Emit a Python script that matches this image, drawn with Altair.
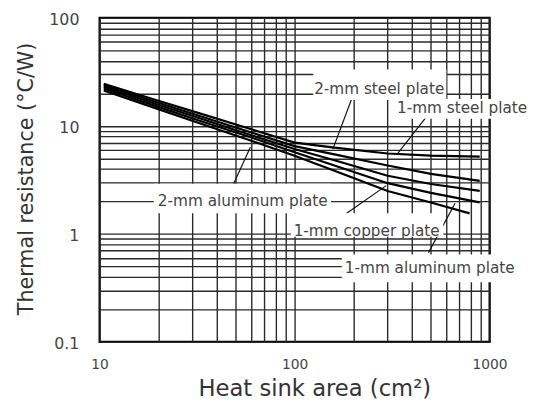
import altair as alt
import pandas as pd

# ---- data ----
AREA = [10.5, 20, 32, 60, 100, 160, 300, 500, 890]
STEEL_1MM = [24.5, 17.1, 13.2, 9.3, 7.0, 6.3, 5.55, 5.3, 5.2]
STEEL_2MM = [23.8, 16.4, 12.5, 8.7, 6.5, 5.45, 4.3, 3.6, 3.1]
AL_2MM = [23.0, 15.7, 11.9, 8.2, 6.1, 4.8, 3.45, 2.9, 2.5]
CU_1MM = [22.2, 15.0, 11.3, 7.8, 5.7, 4.3, 2.95, 2.4, 1.96]
AL_1MM_AREA = [10.5, 20, 32, 60, 100, 160, 300, 500, 790]
AL_1MM = [21.3, 14.3, 10.7, 7.3, 5.3, 3.85, 2.5, 1.95, 1.55]

X_TICKS = [10, 100, 1000]
Y_TICKS = [0.1, 1, 10, 100]

LABELS = ["2-mm steel plate", "1-mm steel plate", "2-mm aluminum plate",
          "1-mm copper plate", "1-mm aluminum plate"]
LABEL_X = [126, 335, 19.9, 98.9, 181]
LABEL_Y = [21.9, 14.7, 2.0, 1.065, 0.48]
BOX_X1 = [124.7, 324, 18.97, 95.5, 174.6]
BOX_X2 = [600, 1574, 153.8, 579, 1574]
BOX_Y1 = [33.3, 17.7, 2.92, 1.553, 0.644]
BOX_Y2 = [17.4, 11.66, 1.553, 0.939, 0.3575]
LEADER_X1 = [196, 475, 48.7, 185, 486]
LEADER_Y1 = [17.7, 12.2, 2.92, 1.55, 0.671]
LEADER_X2 = [157, 339, 59.3, 295, 665]
LEADER_Y2 = [6.08, 5.59, 6.34, 2.80, 1.92]

# ---- tables ----
rows = []
for name, xs, ys in [("1-mm steel plate", AREA, STEEL_1MM),
                     ("2-mm steel plate", AREA, STEEL_2MM),
                     ("2-mm aluminum plate", AREA, AL_2MM),
                     ("1-mm copper plate", AREA, CU_1MM),
                     ("1-mm aluminum plate", AL_1MM_AREA, AL_1MM)]:
    for a, v in zip(xs, ys):
        rows.append({"series": name, "area": a, "value": v})
lines_df = pd.DataFrame(rows)

ann_df = pd.DataFrame({
    "label": LABELS, "lx": LABEL_X, "ly": LABEL_Y,
    "area": BOX_X1, "area2": BOX_X2, "value": BOX_Y1, "value2": BOX_Y2,
})
lead_df = pd.DataFrame({"area": LEADER_X1, "value": LEADER_Y1,
                        "area2": LEADER_X2, "value2": LEADER_Y2})

x_grid = [m * d for d in X_TICKS[:-1] for m in range(1, 10)] + [X_TICKS[-1]]
y_grid = [round(m * d, 3) for d in Y_TICKS[:-1] for m in range(1, 10)] + [Y_TICKS[-1]]

FONT = "DejaVu Sans"
xscale = alt.Scale(type="log", domain=[10, 1000])
yscale = alt.Scale(type="log", domain=[0.1, 100])

xaxis = alt.Axis(
    values=x_grid, format="~g",
    labelExpr="indexof([10,100,1000], datum.value) >= 0 ? datum.label : ''",
    title="Heat sink area (cm²)", titleFont=FONT, titleFontSize=23,
    titleFontWeight="normal", titleColor="#333333",
    titleX=218, titleY=54, titleAlign="center", titleBaseline="alphabetic",
    labelFont=FONT, labelFontSize=14, labelColor="#444444", labelPadding=16,
    labelFlush=False, labelOverlap=False, labelBound=False,
    ticks=False, domain=False, grid=True, gridColor="#2a2a2a", gridWidth=1.4,
)
yaxis = alt.Axis(
    values=y_grid, format="~g",
    labelExpr="indexof([0.1,1,10,100], datum.value) >= 0 ? datum.label : ''",
    title="Thermal resistance (°C/W)", titleFont=FONT, titleFontSize=21,
    titleFontWeight="normal", titleColor="#333333",
    titleX=-68, titleY=163, titleAngle=-90, titleAlign="center",
    titleBaseline="alphabetic",
    labelFont=FONT, labelFontSize=16, labelColor="#444444", labelPadding=21,
    labelOffset=2, labelFlush=False, labelOverlap=False, labelBound=False,
    ticks=False, domain=False, grid=True, gridColor="#2a2a2a", gridWidth=1.4,
)

X = alt.X("area:Q", scale=xscale, axis=xaxis)
Y = alt.Y("value:Q", scale=yscale, axis=yaxis)

lines = alt.Chart(lines_df).mark_line(color="black", strokeWidth=2.2).encode(
    x=X, y=Y, detail="series:N", order="area:Q")

leaders = alt.Chart(lead_df).mark_rule(color="#111111", strokeWidth=1.2).encode(
    x=X, y=Y, x2="area2:Q", y2="value2:Q")

boxes = alt.Chart(ann_df).mark_rect(color="white").encode(
    x=X, y=Y, x2="area2:Q", y2="value2:Q")

texts = alt.Chart(ann_df).mark_text(
    align="left", baseline="middle", font=FONT, fontSize=15.5, color="#444444"
).encode(
    x=alt.X("lx:Q", scale=xscale, axis=xaxis),
    y=alt.Y("ly:Q", scale=yscale, axis=yaxis),
    text="label:N")

chart = alt.layer(lines, leaders, boxes, texts).properties(
    width=396, height=329,
    padding={"left": 93, "top": 7, "right": 39, "bottom": 60},
    autosize=alt.AutoSizeParams(type="none"),
).configure_view(stroke="black", strokeWidth=2.2)

chart.save("out.html", embed_options={"renderer": "svg", "actions": False})
